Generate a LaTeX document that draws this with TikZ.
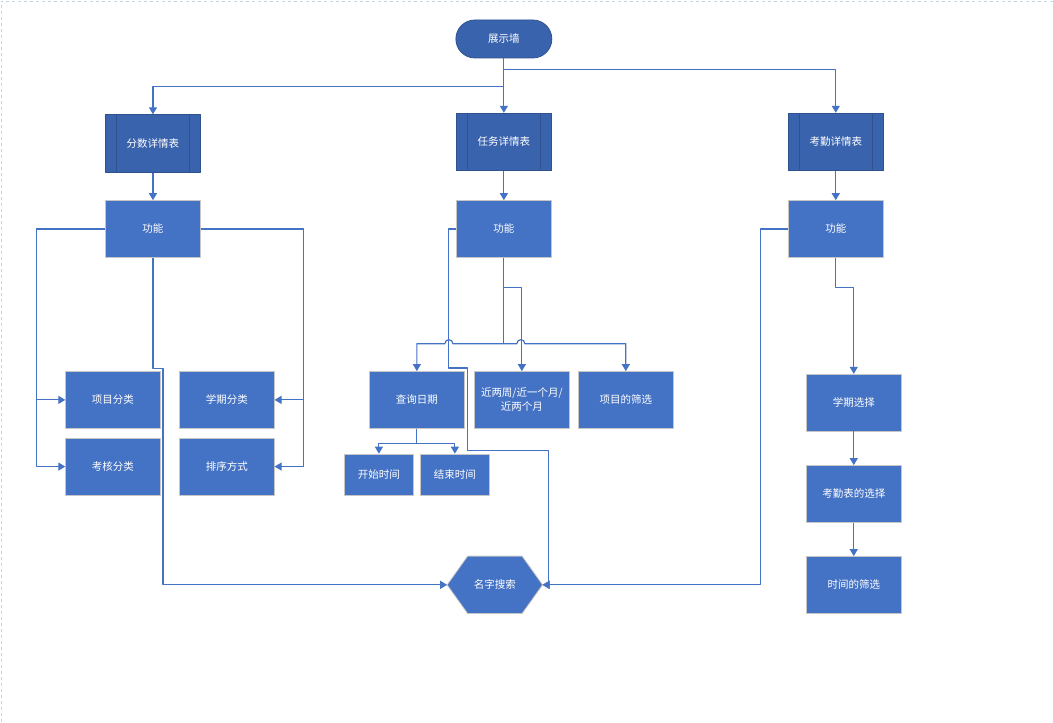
\documentclass[tikz,border=0pt]{standalone}
\usepackage{fontspec}
\newfontfamily\cjk{Noto Sans CJK SC}
\usetikzlibrary{arrows.meta,backgrounds}

\definecolor{mainblue}{HTML}{4472C4}
\definecolor{darkblue}{HTML}{3A63AD}
\definecolor{darkedge}{HTML}{2F528F}
\definecolor{pageedge}{HTML}{C9D3E6}

\begin{document}
\begin{tikzpicture}[x=1pt, y=-1pt, line join=round,
  box/.style={rectangle, draw=gray!45, line width=0.8pt, fill=mainblue, text=white,
    minimum width=94.5pt, minimum height=56.7pt, inner sep=0pt, align=center,
    font=\cjk\fontsize{10.5}{14}\selectfont},
  smallbox/.style={box, minimum width=69pt, minimum height=41pt},
  tablebox/.style={box, draw=darkedge, fill=darkblue, minimum width=95.5pt, minimum height=57.5pt,
    path picture={\draw[darkedge, line width=0.8pt]
      ([xshift=11.5pt]path picture bounding box.north west) -- ([xshift=11.5pt]path picture bounding box.south west)
      ([xshift=-11.5pt]path picture bounding box.north east) -- ([xshift=-11.5pt]path picture bounding box.south east);}},
  termbox/.style={box, draw=darkedge, fill=darkblue, rounded corners=19pt, minimum width=96pt, minimum height=38pt},
  link/.style={draw=mainblue, line width=1.2pt, -{Triangle[width=8pt,length=7pt]}},
  line/.style={draw=mainblue, line width=1.2pt}]

  % ── 页边（虚线）──
  \draw[pageedge, dashed, line width=0.6pt] (1,722) -- (1,1) -- (1053,1);

  % ── 顶部 ──
  \node[termbox] (wall) at (504,39) {展示墙};
  \node[tablebox] (scoreTab) at (153,143.5) {分数详情表};
  \node[tablebox] (taskTab) at (504,142) {任务详情表};
  \node[tablebox] (attTab) at (836,142) {考勤详情表};

  \node[box] (scoreFn) at (153,229) {功能};
  \node[box] (taskFn) at (504,229) {功能};
  \node[box] (attFn) at (836,229) {功能};

  % ── 左列 ──
  \node[box] (projCls) at (113,400) {项目分类};
  \node[box] (examCls) at (113,466.7) {考核分类};
  \node[box] (termCls) at (227,400) {学期分类};
  \node[box] (sortWay) at (227,466.7) {排序方式};

  % ── 中列 ──
  \node[box] (queryDate) at (417,400) {查询日期};
  \node[box] (recent) at (522,400) {近两周/近一个月/\\近两个月};
  \node[box] (projFilt) at (626,400) {项目的筛选};
  \node[smallbox] (startT) at (379,474.7) {开始时间};
  \node[smallbox] (endT) at (455,474.7) {结束时间};

  % ── 名字搜索：六边形垫在底层 ──
  \node[box, draw=none, fill=none, minimum width=94.6pt] (nameSearch) at (495,585) {名字搜索};
  \begin{scope}[on background layer]
    \filldraw[fill=mainblue, draw=gray!45, line width=0.8pt]
      ([xshift=20.5pt]nameSearch.north west) -- ([xshift=-20.5pt]nameSearch.north east)
      -- (nameSearch.east) -- ([xshift=-20.5pt]nameSearch.south east)
      -- ([xshift=20.5pt]nameSearch.south west) -- (nameSearch.west) -- cycle;
  \end{scope}

  % ── 右列 ──
  \node[box] (termSel) at (854,402.7) {学期选择};
  \node[box] (attSel) at (854,494) {考勤表的选择};
  \node[box] (timeFilt) at (854,585) {时间的筛选};

  % ── 连线 ──
  \draw[link] (wall.south) -- (taskTab.north);
  \draw[link] (wall.south) ++(0,11) -| (attTab.north);
  \draw[link] (wall.south) ++(0,28) -| (scoreTab.north);
  \foreach \a/\b in {scoreTab/scoreFn, taskTab/taskFn, attTab/attFn}
    \draw[link] (\a) -- (\b);

  \draw[link] (scoreFn.west) -- ++(-69,0) |- (projCls.west);
  \draw[link] (scoreFn.west) -- ++(-69,0) |- (examCls.west);
  \draw[link] (scoreFn.east) -- ++(103,0) |- (termCls.east);
  \draw[link] (scoreFn.east) -- ++(103,0) |- (sortWay.east);
  \draw[link] (scoreFn.south) -- ++(0,111) -- ++(10,0) |- (nameSearch.west);

  % 中列：总线上两处跨线小弧
  \draw[line] (taskFn.south) -- ++(0,86) coordinate (bus);
  \draw[link] (bus) -- ++(13,0) arc[start angle=180, end angle=360, radius=4] -| (projFilt.north);
  \draw[link] (bus) -- ++(-51,0) arc[start angle=0, end angle=-180, radius=4] -| (queryDate.north);
  \draw[link] (taskFn.south) -- ++(0,29.5) -| (recent.north);
  \draw[link] (taskFn.west) -- ++(-8,0) -- ++(0,139) -- ++(19,0) -- ++(0,83) -- ++(81.6,0) |- (nameSearch.east);
  \draw[link] (queryDate.south) -- ++(0,15) -| (startT.north);
  \draw[link] (queryDate.south) -- ++(0,15) -| (endT.north);

  \draw[link] (attFn.west) -- ++(-28,0) |- (nameSearch.east);
  \draw[link] (attFn.south) -- ++(0,29.5) -| (termSel.north);
  \draw[link] (termSel) -- (attSel);
  \draw[link] (attSel) -- (timeFilt);

  \path[use as bounding box] (0,0) rectangle (1053,722);
\end{tikzpicture}
\end{document}
